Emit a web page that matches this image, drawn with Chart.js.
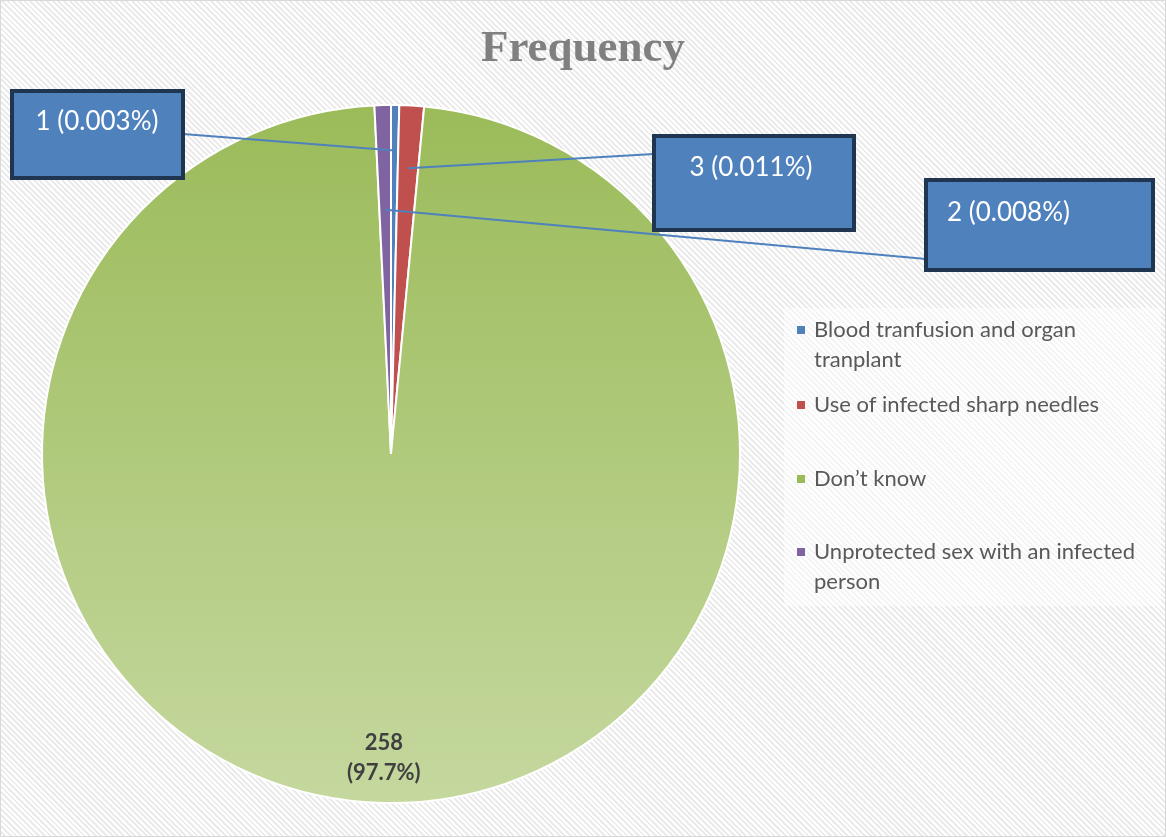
<!DOCTYPE html>
<html>
<head>
<meta charset="utf-8">
<script src="https://cdn.jsdelivr.net/npm/chart.js@4.4.1/dist/chart.umd.min.js"></script>
<style>
  html, body { margin: 0; padding: 0; background: #fff; }
  #wrap {
    width: 1164px; height: 835px;
    border: 1px solid #d9d9d9;
    background: repeating-linear-gradient(45deg, #ffffff 0px, #ffffff 2px, #ebebeb 2px, #ebebeb 4px);
  }
</style>
</head>
<body>
<div id="wrap"><canvas id="freqChart" width="1164" height="835"></canvas></div>
<script>
const chartTitle = 'Frequency';
const categories = ['Blood tranfusion and organ tranplant', 'Use of infected sharp needles', 'Don\u2019t know', 'Unprotected sex with an infected person'];
const frequencies = [1, 3, 258, 2];
const valueLabels = ['1 (0.003%)', '3 (0.011%)', '258 (97.7%)', '2 (0.008%)'];
const sliceColors = ['#4F81BD', '#C0504D', null, '#8064A2'];

// callout boxes (layout only)
const callouts = [
  { index: 0, x: 11, y: 90, w: 171, h: 87, tx: 96, ty: 121, align: 'center', lx: 182, ly: 133, r: 0.87 },
  { index: 1, x: 653, y: 135, w: 200, h: 94, tx: 750, ty: 167, align: 'center', lx: 653, ly: 153, r: 0.82 },
  { index: 3, x: 925, y: 179, w: 227, h: 90, tx: 946, ty: 212, align: 'left', lx: 925, ly: 258, r: 0.70 }
];
const legendRows = [329, 404, 478, 551];

function greenGradient(ctx) {
  const area = ctx.chart.chartArea;
  if (!area) return '#9BBB59';
  const g = ctx.chart.ctx.createLinearGradient(0, area.top, 0, area.bottom);
  g.addColorStop(0, '#9BBB59');
  g.addColorStop(1, '#C5D89F');
  return g;
}

function wrapText(ctx, text, maxW) {
  const words = text.split(' ');
  const lines = [];
  let cur = '';
  words.forEach(w => {
    const t = cur ? cur + ' ' + w : w;
    if (ctx.measureText(t).width > maxW && cur) { lines.push(cur); cur = w; } else { cur = t; }
  });
  lines.push(cur);
  return lines;
}

const decorations = {
  id: 'decorations',
  afterDraw(chart) {
    const ctx = chart.ctx;
    const arcs = chart.getDatasetMeta(0).data;
    ctx.save();

    // title, centred on the whole canvas
    ctx.fillStyle = '#808080';
    ctx.font = 'bold 45px "Liberation Serif"';
    ctx.textAlign = 'center';
    ctx.textBaseline = 'middle';
    ctx.fillText(chartTitle, chart.width / 2, 48);

    // leader lines + callout boxes
    callouts.forEach(c => {
      const a = arcs[c.index];
      const mid = (a.startAngle + a.endAngle) / 2;
      const px = a.x + Math.cos(mid) * a.outerRadius * c.r;
      const py = a.y + Math.sin(mid) * a.outerRadius * c.r;
      ctx.strokeStyle = '#4F81BD';
      ctx.lineWidth = 2;
      ctx.beginPath();
      ctx.moveTo(px, py);
      ctx.lineTo(c.lx, c.ly);
      ctx.stroke();
    });
    callouts.forEach(c => {
      ctx.fillStyle = '#4F81BD';
      ctx.fillRect(c.x, c.y, c.w, c.h);
      ctx.strokeStyle = '#1F3550';
      ctx.lineWidth = 4;
      ctx.strokeRect(c.x, c.y, c.w, c.h);
      ctx.fillStyle = '#ffffff';
      ctx.font = '26px Lato';
      ctx.textAlign = c.align;
      ctx.textBaseline = 'middle';
      ctx.fillText(valueLabels[c.index], c.tx, c.ty);
    });

    // label inside big slice
    const big = arcs[2];
    const bm = (big.startAngle + big.endAngle) / 2;
    const bx = big.x + Math.cos(bm) * big.outerRadius * 0.87;
    const by = big.y + Math.sin(bm) * big.outerRadius * 0.87;
    const parts = valueLabels[2].split(' ');
    ctx.fillStyle = '#404040';
    ctx.font = 'bold 22px Lato';
    ctx.textAlign = 'center';
    ctx.textBaseline = 'middle';
    ctx.fillText(parts[0], bx, by - 15);
    ctx.fillText(parts[1], bx, by + 15);

    // legend
    ctx.fillStyle = 'rgba(255,255,255,0.5)';
    ctx.fillRect(783, 307, 377, 298);
    ctx.font = '22px Lato';
    ctx.textAlign = 'left';
    ctx.textBaseline = 'middle';
    categories.forEach((name, i) => {
      const y = legendRows[i];
      ctx.fillStyle = sliceColors[i] || '#9BBB59';
      ctx.fillRect(796, y - 4, 8, 8);
      ctx.fillStyle = '#595959';
      wrapText(ctx, name, 335).forEach((ln, k) => ctx.fillText(ln, 813, y + k * 30));
    });
    ctx.restore();
  }
};

new Chart(document.getElementById('freqChart'), {
  type: 'pie',
  data: {
    labels: categories,
    datasets: [{
      data: frequencies,
      backgroundColor: ctx => sliceColors[ctx.dataIndex] || greenGradient(ctx),
      borderColor: '#ffffff',
      borderWidth: 2
    }]
  },
  options: {
    responsive: false,
    animation: false,
    layout: { padding: { left: 40, right: 424, top: 103, bottom: 32 } },
    plugins: {
      legend: { display: false },
      tooltip: { enabled: false },
      title: { display: false }
    }
  },
  plugins: [decorations]
});
</script>
</body>
</html>
